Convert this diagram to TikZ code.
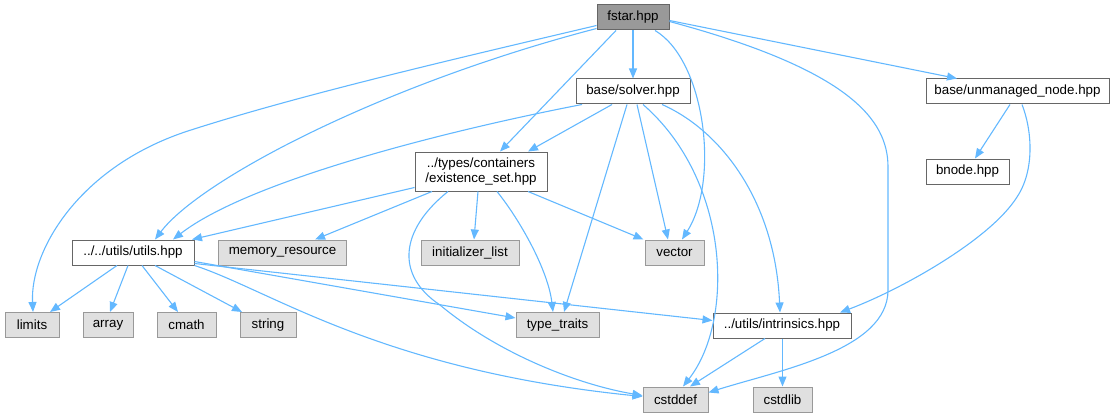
\documentclass[tikz,border=0pt]{standalone}
\usepackage{fontspec}
\setmainfont{Liberation Sans}
\usetikzlibrary{arrows.meta}
\definecolor{edgec}{HTML}{63B8FF}
\definecolor{extfill}{HTML}{E0E0E0}
\definecolor{extdraw}{HTML}{999999}
\definecolor{intdraw}{HTML}{666666}
\definecolor{rootfill}{HTML}{999999}
\tikzset{
  box/.style={draw=intdraw, fill=white, line width=1pt, inner sep=0pt, minimum height=25pt, align=center, font=\fontsize{13.33}{15}\selectfont},
  ext/.style={box, draw=extdraw, fill=extfill},
  root/.style={box, fill=rootfill},
  e/.style={draw=edgec, line width=1.1pt, -{Triangle[length=10pt,width=8pt]}}
}
\begin{document}
\begin{tikzpicture}[x=1pt,y=-1pt]
\useasboundingbox (0,0) rectangle (1113,417);
% nodes
\node[root, minimum width=72pt] (fstar) at (633,17.5) {fstar.hpp};
\node[box, minimum width=114pt] (solver) at (633,91.5) {base/solver.hpp};
\node[box, minimum width=183pt] (unm) at (1017.5,91.5) {base/unmanaged\_node.hpp};
\node[box, minimum width=132pt, minimum height=39pt] (exist) at (481,171.5) {../types/containers\\/existence\_set.hpp};
\node[box, minimum width=83pt] (bnode) at (967.5,171.5) {bnode.hpp};
\node[box, minimum width=122pt] (utils) at (133,252.5) {../../utils/utils.hpp};
\node[ext, minimum width=128pt] (memres) at (282.5,252.5) {memory\_resource};
\node[ext, minimum width=98pt] (initl) at (470,252.5) {initializer\_list};
\node[ext, minimum width=59pt] (vector) at (674.5,252.5) {vector};
\node[ext, minimum width=54pt] (limits) at (32,325) {limits};
\node[ext, minimum width=50pt] (array) at (108,325) {array};
\node[ext, minimum width=59pt] (cmath) at (186.5,325) {cmath};
\node[ext, minimum width=56pt] (string) at (268,325) {string};
\node[ext, minimum width=83pt] (type) at (557.5,325) {type\_traits};
\node[box, minimum width=138pt] (intr) at (782,325.5) {../utils/intrinsics.hpp};
\node[ext, minimum width=65pt] (cstddef) at (675.5,399.5) {cstddef};
\node[ext, minimum width=59pt] (cstdlib) at (782.5,399.5) {cstdlib};
% fstar edges
\draw[e] (fstar.south) -- (solver.north);
\draw[e] ([xshift=-17]fstar.south) -- ([xshift=19]exist.north);
\draw[e] ([yshift=-11]fstar.west) .. controls (380,85) and (200,180) .. ([xshift=22]utils.north);
\draw[e] ([yshift=-8]fstar.west) .. controls (450,60) and (300,95) .. (191,130) .. controls (80,165) and (30,250) .. ([xshift=1]limits.north);
\draw[e] ([xshift=22]fstar.south) .. controls (705,60) and (720,180) .. ([xshift=7.5]vector.north);
\draw[e] ([yshift=-4]fstar.east) .. controls (850,70) and (888,120) .. (888,167) -- (888,290) .. controls (888,350) and (780,370) .. ([yshift=7]cstddef.east);
\draw[e] ([yshift=-3]fstar.east) -- ([xshift=-60.5]unm.north);
% solver edges
\draw[e] ([xshift=-21]solver.south) -- ([xshift=47]exist.north);
\draw[e] ([xshift=-51]solver.south) .. controls (450,130) and (250,180) .. ([xshift=40]utils.north);
\draw[e] ([xshift=-6]solver.south) -- ([xshift=6.5]type.north);
\draw[e] ([xshift=4]solver.south) -- ([xshift=-6.5]vector.north);
\draw[e] ([xshift=10]solver.south) .. controls (730,180) and (735,320) .. ([xshift=7.5]cstddef.north);
\draw[e] ([xshift=29]solver.south) .. controls (720,130) and (775,200) .. ([xshift=-2]intr.north);
% existence_set edges
\draw[e] ([yshift=-16]exist.west) -- ([xshift=59]utils.north);
\draw[e] ([xshift=-49]exist.south) -- ([xshift=32.5]memres.north);
\draw[e] ([xshift=-3]exist.south) -- ([xshift=4]initl.north);
\draw[e] ([xshift=16]exist.south) .. controls (520,220) and (548,270) .. ([xshift=-4.5]type.north);
\draw[e] ([xshift=47]exist.south) -- ([xshift=-31]vector.north);
\draw[e] ([xshift=-33]exist.south) .. controls (400,230) and (395,275) .. (440,305) .. controls (500,355) and (580,385) .. ([yshift=4]cstddef.west);
% utils edges
\draw[e] ([xshift=-16]utils.south) -- ([xshift=18]limits.north);
\draw[e] ([xshift=-5]utils.south) -- ([xshift=2]array.north);
\draw[e] ([xshift=9]utils.south) -- ([xshift=-8.5]cmath.north);
\draw[e] ([xshift=22]utils.south) -- ([xshift=-26]string.north);
\draw[e] ([yshift=-9]utils.east) -- ([yshift=7]type.west);
\draw[e] ([yshift=-11]utils.east) -- ([yshift=5]intr.west);
\draw[e] (utils.south east) .. controls (270,290) and (380,370) .. ([yshift=3]cstddef.west);
% intrinsics edges
\draw[e] ([xshift=-17]intr.south) -- ([xshift=14.5]cstddef.north);
\draw[e] ([xshift=0.5]intr.south) -- (cstdlib.north);
% unmanaged edges
\draw[e] ([xshift=-7.5]unm.south) -- ([xshift=7.5]bnode.north);
\draw[e] ([xshift=4.5]unm.south) .. controls (1032,130) and (1035,170) .. (1017,197) .. controls (990,240) and (900,290) .. ([xshift=58]intr.north);
\end{tikzpicture}
\end{document}
